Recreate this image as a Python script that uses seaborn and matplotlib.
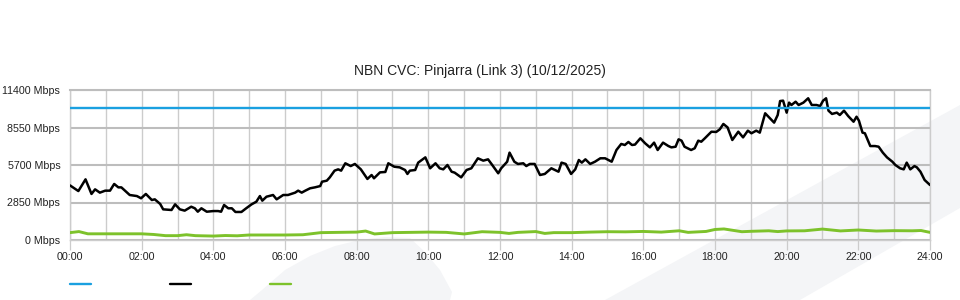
import matplotlib
matplotlib.use("Agg")
import matplotlib.pyplot as plt
from matplotlib.patches import Polygon
from matplotlib.lines import Line2D
from matplotlib.ticker import FixedLocator
import seaborn as sns
import pandas as pd

# ---------------- data ----------------
title = "NBN CVC: Pinjarra (Link 3) (10/12/2025)"
y_ticks = [0, 2850, 5700, 8550, 11400]
x_tick_labels = ["00:00", "02:00", "04:00", "06:00", "08:00", "10:00", "12:00",
                 "14:00", "16:00", "18:00", "20:00", "22:00", "24:00"]

capacity_times = ["00:00", "24:00"]
capacity_mbps = [10000, 10000]

traffic_times = [
    "00:00", "00:14", "00:26", "00:36", "00:42", "00:50", "00:59", "01:07", "01:14", "01:21",
    "01:26", "01:40", "01:52", "01:59", "02:07", "02:17", "02:22", "02:31", "02:36", "02:50",
    "02:56", "03:04", "03:12", "03:23", "03:29", "03:34", "03:40", "03:49", "04:00", "04:08",
    "04:13", "04:18", "04:25", "04:31", "04:37", "04:47", "04:55", "05:04", "05:12", "05:18",
    "05:22", "05:29", "05:40", "05:46", "05:57", "06:05", "06:17", "06:22", "06:28", "06:34",
    "06:42", "06:50", "06:59", "07:02", "07:10", "07:15", "07:23", "07:29", "07:34", "07:41",
    "07:50", "07:57", "08:07", "08:18", "08:25", "08:29", "08:39", "08:48", "08:53", "09:03",
    "09:12", "09:21", "09:25", "09:29", "09:38", "09:43", "09:55", "10:03", "10:12", "10:19",
    "10:25", "10:32", "10:39", "10:44", "10:55", "11:04", "11:12", "11:23", "11:32", "11:40",
    "11:47", "11:57", "12:02", "12:12", "12:16", "12:24", "12:30", "12:39", "12:44", "12:50",
    "12:58", "13:07", "13:15", "13:26", "13:38", "13:43", "13:50", "13:59", "14:06", "14:12",
    "14:17", "14:23", "14:31", "14:39", "14:48", "14:56", "15:07", "15:15", "15:23", "15:29",
    "15:35", "15:41", "15:46", "15:55", "16:03", "16:11", "16:18", "16:24", "16:33", "16:42",
    "16:47", "16:54", "16:59", "17:04", "17:09", "17:20", "17:26", "17:32", "17:37", "17:43",
    "17:54", "18:02", "18:08", "18:14", "18:21", "18:29", "18:39", "18:47", "18:55", "19:01",
    "19:09", "19:15", "19:24", "19:32", "19:39", "19:45", "19:49", "19:54", "20:00", "20:04",
    "20:08", "20:15", "20:20", "20:28", "20:36", "20:42", "20:50", "20:56", "21:01", "21:06",
    "21:10", "21:16", "21:24", "21:29", "21:36", "21:43", "21:52", "21:57", "22:01", "22:07",
    "22:11", "22:20", "22:28", "22:34", "22:41", "22:48", "22:57", "23:02", "23:10", "23:16",
    "23:21", "23:27", "23:34", "23:38", "23:44", "23:51", "24:00",
]
traffic_mbps = [
    4150, 3720, 4610, 3500, 3850, 3600, 3750, 3750, 4260, 4000,
    4000, 3420, 3340, 3170, 3500, 3040, 3090, 2740, 2330, 2280,
    2710, 2330, 2230, 2530, 2410, 2150, 2410, 2150, 2200, 2200,
    2150, 2660, 2410, 2410, 2130, 2130, 2410, 2710, 2910, 3340,
    2990, 3290, 3420, 3090, 3420, 3420, 3600, 3750, 3600, 3750,
    3930, 4000, 4100, 4430, 4510, 4760, 5270, 5370, 5270, 5830,
    5620, 5780, 5370, 4640, 4940, 4690, 5140, 5170, 5830, 5570,
    5520, 5320, 5020, 5270, 5320, 5880, 6280, 5450, 5830, 5450,
    5370, 5700, 5190, 5120, 4760, 5320, 5450, 6210, 6030, 6130,
    5700, 5070, 5450, 5950, 6640, 5950, 5780, 5830, 5620, 5780,
    5780, 4940, 5020, 5450, 5190, 5880, 5780, 5020, 5370, 6080,
    5880, 6130, 5780, 5950, 6210, 6210, 5950, 6840, 7300, 7220,
    7450, 7220, 7250, 7730, 7350, 7040, 7400, 6840, 7400, 7140,
    7040, 7090, 7650, 7550, 7090, 6840, 6970, 7550, 7470, 7730,
    8230, 8210, 8410, 8820, 8560, 7600, 8230, 7800, 8310, 8110,
    8310, 8160, 9630, 9250, 8920, 9500, 10560, 10590, 9680, 10440,
    10260, 10510, 10260, 10440, 10770, 10260, 10260, 10180, 10590, 10770,
    9830, 9580, 9680, 9500, 9830, 9420, 8990, 9370, 9070, 8160,
    8110, 7140, 7140, 7090, 6640, 6280, 5950, 5700, 5450, 5370,
    5880, 5370, 5620, 5520, 5190, 4560, 4180,
]

other_times = [
    "00:00", "00:15", "00:30", "01:00", "01:30", "02:00", "02:20", "02:40", "03:00", "03:15",
    "03:30", "04:00", "04:20", "04:40", "05:00", "05:30", "06:00", "06:30", "07:00", "07:30",
    "08:00", "08:15", "08:30", "09:00", "09:30", "10:00", "10:30", "11:00", "11:30", "12:00",
    "12:15", "12:30", "13:00", "13:15", "13:30", "14:00", "14:30", "15:00", "15:30", "16:00",
    "16:30", "17:00", "17:15", "17:45", "18:00", "18:15", "18:45", "19:00", "19:30", "19:45",
    "20:00", "20:30", "21:00", "21:30", "22:00", "22:30", "23:00", "23:30", "23:45", "24:00",
]
other_mbps = [
    560, 640, 470, 470, 470, 470, 420, 330, 330, 400,
    330, 300, 340, 320, 380, 380, 380, 400, 560, 580,
    600, 680, 460, 560, 580, 600, 580, 460, 630, 580,
    500, 580, 640, 500, 560, 560, 600, 630, 620, 650,
    600, 700, 580, 650, 800, 840, 630, 660, 700, 640,
    690, 700, 830, 690, 760, 680, 710, 700, 720, 580,
]

# ---------------- styling ----------------
C_BLUE = "#1aa0e0"
C_BLACK = "#000000"
C_GREEN = "#7dc22b"
C_GRID_H = "#bdbdbd"
C_GRID_V = "#cccccc"
C_BG_SHAPE = "#f4f5f7"

sns.set_theme(style="white")
plt.rcParams["font.family"] = ["Liberation Sans", "DejaVu Sans"]


def to_hours(ts):
    return [int(t[:2]) + int(t[3:]) / 60.0 for t in ts]


df_traffic = pd.DataFrame({"hour": to_hours(traffic_times), "mbps": traffic_mbps})
df_other = pd.DataFrame({"hour": to_hours(other_times), "mbps": other_mbps})
df_cap = pd.DataFrame({"hour": to_hours(capacity_times), "mbps": capacity_mbps})

W, H = 960, 300
fig = plt.figure(figsize=(9.6, 3.0), dpi=100)
fig.patch.set_facecolor("white")


def px(x, y):
    return (x / W, 1 - y / H)


# background decorative shapes
blob = [(250, 300), (262, 290), (285, 270), (310, 256), (335, 246), (360, 240),
        (385, 237), (410, 238), (425, 252), (440, 270), (452, 292), (450, 300)]
band = [(605, 300), (960, 105), (960, 208), (800, 300)]
for shape in (blob, band):
    fig.add_artist(Polygon([px(*p) for p in shape], closed=True,
                           transform=fig.transFigure, facecolor=C_BG_SHAPE,
                           edgecolor="none", zorder=-5))

ax = fig.add_axes([70 / W, 60 / H, 860 / W, 150 / H])
ax.set_facecolor("none")

sns.lineplot(data=df_other, x="hour", y="mbps", ax=ax, color=C_GREEN,
             linewidth=2.1, zorder=3)
sns.lineplot(data=df_traffic, x="hour", y="mbps", ax=ax, color=C_BLACK,
             linewidth=1.8, zorder=4)
sns.lineplot(data=df_cap, x="hour", y="mbps", ax=ax, color=C_BLUE,
             linewidth=1.7, zorder=5)

ax.set_xlim(0, 24)
ax.set_ylim(0, 11400)
ax.set_xlabel("")
ax.set_ylabel("")

ax.xaxis.set_major_locator(FixedLocator(list(range(0, 25, 2))))
ax.xaxis.set_minor_locator(FixedLocator(list(range(1, 24, 2))))
ax.set_xticklabels(x_tick_labels)
ax.set_yticks(y_ticks)
ax.set_yticklabels([f"{v} Mbps" for v in y_ticks])

ax.grid(False)
ax.grid(True, axis="x", which="both", color=C_GRID_V, linewidth=1.0, zorder=0)
ax.grid(True, axis="y", which="major", color=C_GRID_H, linewidth=1.5, zorder=0)
ax.set_axisbelow(True)

ax.tick_params(axis="x", which="major", direction="out", length=7, width=0.9,
               color=C_GRID_V, labelsize=7.7, labelcolor="#222222", pad=2,
               bottom=True)
ax.tick_params(axis="x", which="minor", length=0)
ax.tick_params(axis="y", length=0, labelsize=7.7, labelcolor="#222222", pad=7)

for side, sp in ax.spines.items():
    sp.set_color(C_GRID_V)
    sp.set_linewidth(1.0)
ax.spines["top"].set_color(C_GRID_H)
ax.spines["top"].set_linewidth(1.5)

fig.text(0.5, 1 - 71 / H, title, ha="center", va="center", fontsize=10,
         color="#222222")

handles = [Line2D([], [], color=C_BLUE, linewidth=1.7),
           Line2D([], [], color=C_BLACK, linewidth=1.7),
           Line2D([], [], color=C_GREEN, linewidth=1.7)]
leg = fig.legend(handles, ["", "", ""], ncol=3, loc="center left",
                 bbox_to_anchor=px(70, 285), frameon=False, fontsize=8,
                 handlelength=1.9, handletextpad=0.0, columnspacing=7.1,
                 borderpad=0, borderaxespad=0)

fig.savefig("out.png", dpi=100, facecolor="white")
